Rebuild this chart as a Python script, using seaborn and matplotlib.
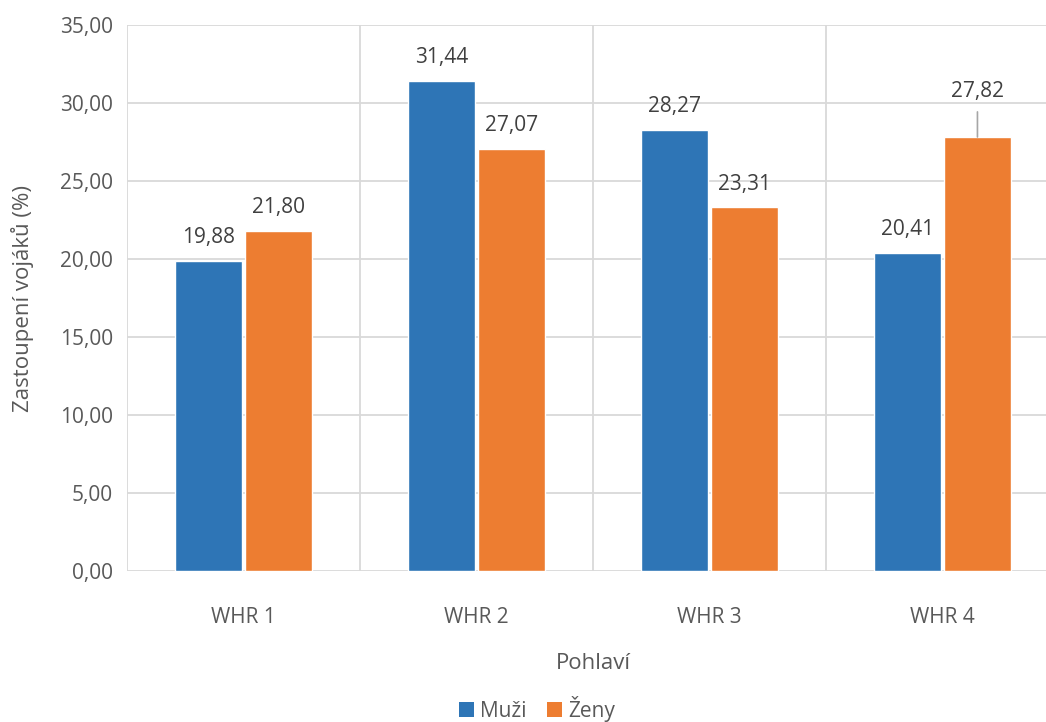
import numpy as np
import pandas as pd
import matplotlib.pyplot as plt
import seaborn as sns
from matplotlib.ticker import FuncFormatter, FixedLocator
from matplotlib.patches import Patch

# === Data ===
kategorie = ["WHR 1", "WHR 2", "WHR 3", "WHR 4"]
muzi = [19.88, 31.44, 28.27, 20.41]
zeny = [21.80, 27.07, 23.31, 27.82]
skupiny = ["Muži", "Ženy"]
barvy = ["#2E75B6", "#ED7D31"]

df = pd.DataFrame({
    "kategorie": kategorie * 2,
    "pohlavi": [skupiny[0]] * len(kategorie) + [skupiny[1]] * len(kategorie),
    "hodnota": muzi + zeny,
})

def cz(v):
    return f"{v:.2f}".replace(".", ",")

# === Style ===
sns.set_style("white")
plt.rcParams["font.family"] = ["Open Sans", "DejaVu Sans"]
plt.rcParams["font.size"] = 15

fig = plt.figure(figsize=(10.46, 7.22), dpi=100)
ax = fig.add_axes([127 / 1046, 151 / 722, 932 / 1046, 546 / 722])

sns.barplot(data=df, x="kategorie", y="hodnota", hue="pohlavi", palette=barvy,
            width=0.6, gap=0.05, saturation=1, ax=ax, legend=False, zorder=3)

ax.set_ylim(0, 35)
ax.set_xlim(-0.5, 3.5)
ax.yaxis.set_major_locator(FixedLocator(np.arange(0, 35.1, 5)))
ax.yaxis.set_major_formatter(FuncFormatter(lambda v, p: cz(v)))
ax.xaxis.set_minor_locator(FixedLocator([-0.5, 0.5, 1.5, 2.5, 3.5]))

grid_c = "#D9D9D9"
ax.grid(axis="y", which="major", color=grid_c, lw=1.3, zorder=0)
ax.grid(axis="x", which="minor", color=grid_c, lw=1.3, zorder=0)
ax.grid(axis="x", which="major", visible=False)
for s in ax.spines.values():
    s.set_visible(False)

ax.tick_params(axis="x", which="both", length=0, pad=26, labelcolor="#595959", labelsize=15)
ax.tick_params(axis="y", length=0, pad=10, labelcolor="#595959", labelsize=15)

ax.set_xlabel("Pohlaví", color="#595959", fontsize=16, labelpad=18)
ax.set_ylabel("Zastoupení vojáků (%)", color="#595959", fontsize=16, labelpad=19)

# === Data labels ===
for i, cont in enumerate(ax.containers):
    vals = muzi if i == 0 else zeny
    labels = [cz(v) for v in vals]
    if i == 1:
        labels[3] = ""
    ax.bar_label(cont, labels=labels, padding=9, color="#404040", fontsize=15)

# label with leader line for last orange bar
bar = ax.containers[1][3]
bx = bar.get_x() + bar.get_width() / 2
ax.annotate(cz(zeny[3]), xy=(bx, zeny[3]), xytext=(0, 33), textcoords="offset points",
            ha="center", va="center", color="#404040", fontsize=15,
            arrowprops=dict(arrowstyle="-", color="#A6A6A6", lw=1.2, shrinkA=5, shrinkB=0))

# === Legend ===
handles = [Patch(facecolor=c, edgecolor="none") for c in barvy]
fig.legend(handles, skupiny, loc="center", bbox_to_anchor=(537 / 1046, 1 - 709 / 722),
           ncol=2, frameon=False, fontsize=15, handlelength=0.7, handleheight=0.7,
           handletextpad=0.3, columnspacing=1.0, labelcolor="#595959",
           borderpad=0, borderaxespad=0)

fig.savefig("out.png", dpi=100)
